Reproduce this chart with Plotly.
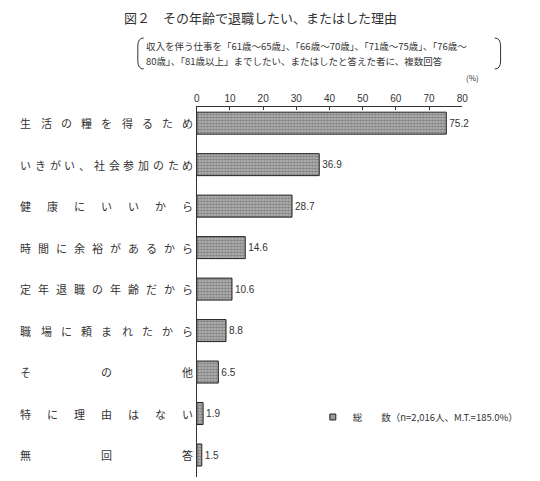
import plotly.graph_objects as go

# 理由（複数回答）
reasons = ["生活の糧を得るため", "いきがい、社会参加のため", "健康にいいから",
           "時間に余裕があるから", "定年退職の年齢だから", "職場に頼まれたから",
           "その他", "特に理由はない", "無回答"]
values = [75.2, 36.9, 28.7, 14.6, 10.6, 8.8, 6.5, 1.9, 1.5]
tick_vals = [0, 10, 20, 30, 40, 50, 60, 70, 80]
legend_name = "総　　数（n=2,016人、M.T.=185.0%）"

# ページ本体の余白(8px)を差し引いて配置する
OFF = 8
W, H = 540 - OFF, 481 - OFF
font_jp = "Noto Sans CJK JP"

plot_top, plot_bot = 107 - OFF, 477 - OFF
ph = plot_bot - plot_top


def xp(px):
    return (px - OFF) / W


def yp(py):
    return 1 + (plot_top - (py - OFF)) / ph


fig = go.Figure()
fig.add_trace(go.Bar(
    x=values, y=reasons, orientation="h",
    name=legend_name, showlegend=False,
    width=0.53,
    marker=dict(color="#999", line=dict(color="#222", width=1),
                pattern=dict(shape=".", fgcolor="#4a4a4a", bgcolor="#bcbcbc",
                             size=3, solidity=0.6)),
    text=[f"{v:.1f}" for v in values], textposition="outside",
    textfont=dict(family="Arial, Liberation Sans", size=10, color="#333"),
    cliponaxis=False,
))
# 凡例用の小さな四角
fig.add_trace(go.Scatter(
    x=[None], y=[None], mode="markers", name=legend_name,
    marker=dict(symbol="square", size=6, color="#999",
                line=dict(color="#222", width=1)),
))

# 項目名は均等割り付け
ann = []
left, right = 23, 188
for r in reasons:
    n = len(r)
    for i, ch in enumerate(r):
        px = left + (right - left) * i / (n - 1)
        ann.append(dict(x=xp(px), y=r, xref="paper", yref="y", text=ch,
                        showarrow=False, xanchor="center",
                        font=dict(family=font_jp, size=11, color="#333")))

# タイトル・注記
title_lines = [
    ("図２　その年齢で退職したい、またはした理由", 262, 17, 13, "center"),
    ("収入を伴う仕事を「61歳～65歳」、「66歳～70歳」、「71歳～75歳」、「76歳～", 143, 46, 9.5, "left"),
    ("80歳」、「81歳以上」までしたい、またはしたと答えた者に、複数回答", 143, 61, 9.5, "left"),
    ("(%)", 469, 78, 8, "left"),
]
for txt, px, py, sz, anc in title_lines:
    ann.append(dict(x=xp(px), y=yp(py), xref="paper", yref="paper", text=txt,
                    showarrow=False, xanchor=anc, yanchor="middle",
                    font=dict(family=font_jp, size=sz, color="#333")))

# 注記の括弧
shapes = []
for xs, xc in [(143, 137), (500, 506)]:
    shapes.append(dict(type="path", xref="paper", yref="paper",
                       path=f"M {xp(xs)},{yp(38)} Q {xp(xc)},{yp(38)} {xp(xc)},{yp(46)} "
                            f"L {xp(xc)},{yp(61)} Q {xp(xc)},{yp(69)} {xp(xs)},{yp(69)}",
                       line=dict(color="#333", width=1)))

fig.update_layout(
    width=W, height=H,
    margin=dict(l=0, r=0, t=plot_top, b=H - plot_bot),
    paper_bgcolor="white", plot_bgcolor="white",
    showlegend=True,
    legend=dict(x=xp(315), y=yp(417), xanchor="left", yanchor="middle",
                bgcolor="rgba(0,0,0,0)",
                font=dict(family=font_jp, size=9.5, color="#333"),
                itemwidth=30),
    xaxis=dict(domain=[xp(197), xp(467)], range=[0, 80], side="top",
               tickvals=tick_vals, ticks="inside", ticklen=3, tickcolor="#333",
               showline=True, linecolor="#333", linewidth=1,
               showgrid=False, zeroline=False,
               tickfont=dict(family="Arial, Liberation Sans", size=10, color="#333")),
    yaxis=dict(range=[8.53, -0.39], showticklabels=False, ticks="",
               showline=True, linecolor="#333", linewidth=1, showgrid=False),
    annotations=ann, shapes=shapes,
)

fig.write_html("out.html")
